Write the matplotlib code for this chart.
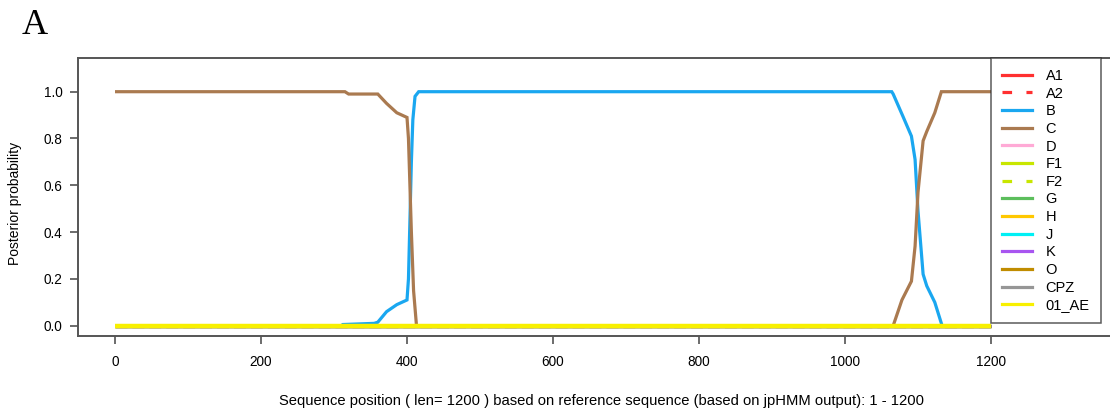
import matplotlib
matplotlib.use("Agg")
import matplotlib.pyplot as plt
from matplotlib.lines import Line2D

# subtype labels and colours (legend order)
subtypes = ["A1", "A2", "B", "C", "D", "F1", "F2", "G", "H", "J", "K", "O", "CPZ", "01_AE"]
colors = ["#ff3030", "#ff3030", "#1aa7f0", "#aa7a50", "#ffaad6", "#c8e600", "#c8e600",
          "#5cbe5c", "#ffc800", "#00f0f5", "#a855f0", "#c08c00", "#969696", "#f8f000"]
styles = ["-", "--", "-", "-", "-", "-", "--", "-", "-", "-", "-", "-", "-", "-"]

# posterior probability
b_pos = [0, 310, 312, 355, 360, 372, 386, 400, 402, 404, 406, 408, 411, 416,
         1064, 1066, 1080, 1091, 1096, 1100, 1107, 1112, 1123, 1130, 1133, 1200]
b_val = [0.0, 0.0, 0.005, 0.01, 0.015, 0.06, 0.09, 0.11, 0.2, 0.45, 0.7, 0.88, 0.98, 1.0,
         1.0, 0.99, 0.89, 0.81, 0.71, 0.49, 0.22, 0.17, 0.10, 0.03, 0.0, 0.0]
c_pos = [0, 315, 320, 360, 372, 386, 400, 402, 404, 406, 409, 413, 1066,
         1078, 1091, 1096, 1100, 1107, 1112, 1123, 1128, 1132, 1200]
c_val = [1.0, 1.0, 0.99, 0.99, 0.95, 0.91, 0.89, 0.8, 0.6, 0.4, 0.15, 0.0, 0.0,
         0.11, 0.19, 0.34, 0.57, 0.79, 0.83, 0.91, 0.96, 1.0, 1.0]
flat_pos = [0, 1200]
flat_val = [0.0, 0.0]

x_ticks = [0, 200, 400, 600, 800, 1000, 1200]
y_ticks = [0.0, 0.2, 0.4, 0.6, 0.8, 1.0]

plt.rcParams["font.family"] = ["Liberation Sans", "DejaVu Sans"]

fig = plt.figure(figsize=(11.1, 4.11), dpi=100)
W, H = 1110, 411
ax = fig.add_axes([78 / W, 1 - 336 / H, (1125 - 78) / W, (336 - 58) / H])

for name, col, ls in zip(subtypes, colors, styles):
    if name == "B":
        xs, ys = b_pos, b_val
    elif name == "C":
        xs, ys = c_pos, c_val
    else:
        xs, ys = flat_pos, flat_val
    if name == "01_AE":
        ax.plot(xs, ys, color=col, linewidth=3.2, zorder=3, solid_capstyle="butt")
    else:
        ax.plot(xs, ys, color=col, linestyle=ls, linewidth=2.3, zorder=2,
                solid_joinstyle="miter", solid_capstyle="butt", dash_capstyle="butt")

# pixel scale: 0 -> 115px, 200 units = 146px
ppu = 0.73
ax.set_xlim((78 - 115) / ppu, (1125 - 115) / ppu)
ax.set_ylim(-0.044, 1.144)
ax.set_xticks(x_ticks)
ax.set_xticklabels([str(v) for v in x_ticks])
ax.set_yticks(y_ticks)
ax.set_yticklabels(["%.1f" % v for v in y_ticks])
ax.tick_params(direction="out", length=6, width=1.1, color="#444444",
               labelsize=9.8, pad=5)
ax.tick_params(axis="x", pad=8)
for s in ax.spines.values():
    s.set_color("#555555")
    s.set_linewidth(1.4)

ax.set_xlabel("Sequence position ( len= 1200 ) based on reference sequence (based on jpHMM output): 1 - 1200",
              fontsize=10.6, labelpad=18)
fig.text(15 / W, 1 - 203 / H, "Posterior probability", rotation=90,
         ha="center", va="center", fontsize=10)

handles = []
for c, ls in zip(colors, styles):
    if ls == "--":
        handles.append(Line2D([0], [0], color=c, linewidth=2.3, linestyle=(0, (3, 4.5))))
    else:
        handles.append(Line2D([0], [0], color=c, linewidth=2.3))
leg = fig.legend(handles, subtypes, loc="upper left",
                 bbox_to_anchor=(991 / W, 1 - 58 / H),
                 frameon=True, fancybox=False, fontsize=10.5,
                 handlelength=2.05, handletextpad=0.95, labelspacing=0.25,
                 borderpad=0.75, borderaxespad=0)
leg.get_frame().set_edgecolor("#333333")
leg.get_frame().set_linewidth(1.1)
leg.set_zorder(5)

fig.text(22 / W, 1 - 26 / H, "A", fontsize=26, family=["Liberation Serif", "DejaVu Serif"],
         ha="left", va="center")

fig.savefig("out.png", dpi=100)
